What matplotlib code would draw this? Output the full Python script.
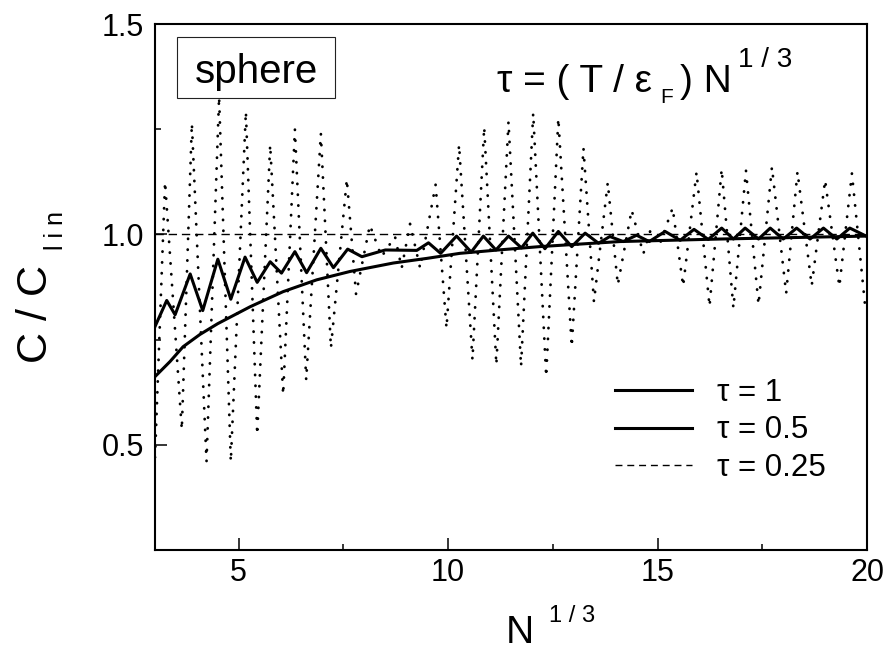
import matplotlib
matplotlib.use("Agg")
import matplotlib.pyplot as plt
from matplotlib.lines import Line2D
from matplotlib.patches import Rectangle
from matplotlib.ticker import MultipleLocator

plt.rcParams['font.family'] = ['Liberation Sans', 'DejaVu Sans']

# tau = 1 : smooth curve
tau1_x = [3.0, 3.36, 3.67, 4.07, 4.50, 5.27, 6.06, 6.86, 7.66, 8.69, 9.49,
          10.28, 11.2, 12.19, 14.10, 16.49, 20.0]
tau1_y = [0.662, 0.698, 0.733, 0.762, 0.788, 0.828, 0.864, 0.892, 0.912, 0.932, 0.943,
          0.955, 0.963, 0.971, 0.983, 0.989, 0.996]

# tau = 0.5 : small wiggles (peaks / troughs)
tau05_x = [3.00, 3.28, 3.48, 3.84, 4.14, 4.50, 4.81, 5.15, 5.44, 5.75, 6.02, 6.34,
           6.62, 6.96, 7.26, 7.60, 7.94, 8.50, 9.25, 9.53, 9.82, 10.20, 10.55, 10.84,
           11.14, 11.44, 11.75, 12.02, 12.31, 12.63, 12.95, 13.27, 13.59, 13.86, 14.18,
           14.50, 14.80, 15.18, 15.54, 15.87, 16.21, 16.53, 16.81, 17.09, 17.41, 17.69,
           18.00, 18.32, 18.64, 18.96, 19.28, 19.59, 20.0]
tau05_y = [0.781, 0.843, 0.809, 0.906, 0.819, 0.941, 0.846, 0.946, 0.886, 0.935, 0.908, 0.959,
           0.909, 0.967, 0.921, 0.965, 0.947, 0.963, 0.962, 0.980, 0.955, 0.996, 0.958, 0.996,
           0.963, 0.996, 0.968, 1.003, 0.966, 1.007, 0.971, 1.003, 0.979, 0.995, 0.983,
           0.998, 0.983, 1.007, 0.986, 1.012, 0.988, 1.015, 0.989, 1.015, 0.989, 1.015,
           0.989, 1.015, 0.989, 1.015, 0.989, 1.015, 0.995]

# tau = 0.25 : large oscillations with beats
tau025_x = [3.00, 3.24, 3.64, 3.88, 4.23, 4.53, 4.81, 5.17, 5.44, 5.75, 6.06, 6.34,
            6.61, 6.96, 7.20, 7.58, 7.80, 8.13, 8.41, 8.73, 8.89, 9.09, 9.33, 9.70,
            9.96, 10.26, 10.58, 10.86, 11.15, 11.44, 11.74, 12.03, 12.34, 12.63, 12.95,
            13.23, 13.48, 13.81, 14.05, 14.38, 14.66, 14.82, 15.04, 15.36, 15.61, 15.93,
            16.24, 16.53, 16.81, 17.11, 17.41, 17.73, 18.07, 18.34, 18.68, 19.00, 19.34,
            19.64, 19.95]
tau025_y = [0.470, 1.125, 0.536, 1.264, 0.460, 1.327, 0.460, 1.292, 0.524, 1.213, 0.619, 1.250,
            0.654, 1.240, 0.730, 1.131, 0.858, 1.022, 0.947, 0.995, 0.920, 1.025, 0.920, 1.118,
            0.777, 1.213, 0.702, 1.255, 0.690, 1.268, 0.686, 1.288, 0.662, 1.276, 0.733,
            1.205, 0.840, 1.123, 0.880, 1.058, 0.954, 1.007, 0.973, 1.063, 0.877, 1.148,
            0.829, 1.155, 0.825, 1.152, 0.833, 1.160, 0.860, 1.149, 0.878, 1.129, 0.876,
            1.145, 0.835]

legend_labels = ['τ = 1', 'τ = 0.5', 'τ = 0.25']

W, H = 888, 652


# pixel position (from top-left) -> figure fraction
def fx(px):
    return px / W


def fy(py):
    return 1 - py / H


fig = plt.figure(figsize=(W / 100, H / 100), dpi=100)
ax = fig.add_axes([155 / W, 1 - 550 / H, (867 - 155) / W, (550 - 24) / H])

ax.axhline(1.0, color='black', lw=1.0, linestyle=(0, (6, 3.5)))
ax.plot(tau025_x, tau025_y, color='black', lw=2.0, linestyle=(0, (0.1, 3.8)),
        dash_capstyle='round')
ax.plot(tau1_x, tau1_y, color='black', lw=2.2, solid_joinstyle='round')
ax.plot(tau05_x, tau05_y, color='black', lw=2.2, solid_joinstyle='round')

ax.set_xlim(3, 20)
ax.set_ylim(0.25, 1.5)
ax.xaxis.set_minor_locator(MultipleLocator(2.5))
ax.yaxis.set_minor_locator(MultipleLocator(0.25))
ax.set_xticks([5, 10, 15, 20])
ax.set_xticklabels(['5', '10', '15', '20'])
ax.set_yticks([0.5, 1.0, 1.5])
ax.set_yticklabels(['0.5', '1.0', '1.5'])
ax.tick_params(which='both', direction='in', top=False, right=False, width=1.1,
               labelsize=22)
ax.tick_params(which='major', length=8.6)
ax.tick_params(which='minor', length=4.3)
ax.tick_params(axis='y', pad=8)
ax.tick_params(axis='x', pad=6)
for s in ax.spines.values():
    s.set_linewidth(1.5)

# legend
handles = [Line2D([], [], color='black', lw=2.2),
           Line2D([], [], color='black', lw=2.2),
           Line2D([], [], color='black', lw=1.0, linestyle=(0, (5, 3.5)))]
ax.legend(handles, legend_labels, loc='upper left', frameon=False,
          bbox_to_anchor=(fx(615), fy(378)), bbox_transform=fig.transFigure,
          borderpad=0, borderaxespad=0, fontsize=22.5, handlelength=2.46,
          handletextpad=0.8, labelspacing=0.24)

# sphere box
fig.patches.append(Rectangle((fx(176.7), fy(98.3)), (335 - 176.7) / W, (98.3 - 36.7) / H,
                             transform=fig.transFigure, fill=False, lw=0.8,
                             edgecolor='#222222'))
fig.text(fx(256), fy(82.7), 'sphere', fontsize=29, ha='center', va='baseline')

# formula
fig.text(fx(497), fy(91.7), 'τ = ( T / ε', fontsize=28, ha='left', va='baseline')
fig.text(fx(660), fy(103), 'F', fontsize=15, ha='left', va='baseline')
fig.text(fx(680), fy(91.7), ') N', fontsize=28, ha='left', va='baseline')
fig.text(fx(738), fy(66.7), '1 / 3', fontsize=20, ha='left', va='baseline')

# axis labels
fig.text(fx(506), fy(643), 'N', fontsize=28, ha='left', va='baseline')
fig.text(fx(549), fy(622), '1 / 3', fontsize=17, ha='left', va='baseline')
fig.text(fx(46.7), fy(363), 'C / C', fontsize=31, rotation=90,
         rotation_mode='anchor', ha='left', va='baseline')
fig.text(fx(63.3), fy(250), 'l i n', fontsize=18, rotation=90,
         rotation_mode='anchor', ha='left', va='baseline')

fig.savefig('out.png', dpi=100)
